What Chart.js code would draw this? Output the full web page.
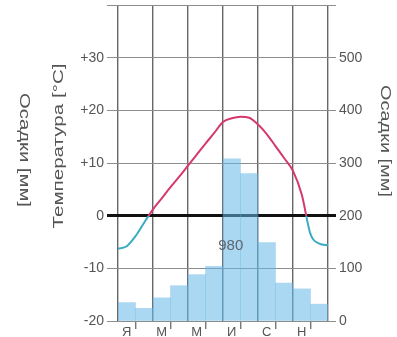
<!DOCTYPE html>
<html>
<head>
<meta charset="utf-8">
<script src="https://cdn.jsdelivr.net/npm/chart.js@4.4.1/dist/chart.umd.min.js"></script>
<style>
  html, body { margin: 0; padding: 0; background: #fff; }
  #wrap { width: 397px; height: 337px; }
</style>
</head>
<body>
<div id="wrap"><canvas id="climate"></canvas></div>
<script>
// month initials (only every second one is printed on the axis)
const months = ['Я', 'Ф', 'М', 'А', 'М', 'И', 'И', 'А', 'С', 'О', 'Н', 'Д'];
// monthly precipitation, mm
const precip = [35, 24, 44, 67, 88, 104, 308, 280, 149, 72, 61, 32];
// temperature curve, read every half month (0 = start of Jan, 12 = end of Dec)
const tempAt = [0, 0.5, 1, 1.5, 2, 2.5, 3, 3.5, 4, 4.5, 5, 5.5, 6, 6.5, 7, 7.5, 8, 8.5, 9, 9.5, 10, 10.5, 11, 11.5, 12];
const temps = [-6.3, -5.8, -3.9, -1.3, 1.2, 3.3, 5.4, 7.4, 9.5, 11.6, 13.7, 15.7, 17.8, 18.5, 18.8, 18.6, 17.3, 15.5, 13.2, 10.9, 8.5, 4.0, -3.5, -5.3, -5.6];
const tempTicks = [-20, -10, 0, 10, 20, 30, 40];
const precipTicks = [0, 100, 200, 300, 400, 500, 600];
const annualTotal = '980';

const RED = '#d5386f';
const CYAN = '#3aabc0';
const TEXT = '#555';
const FONT = '"Liberation Sans", Arial, sans-serif';

const tempLine = tempAt.map((m, i) => ({ x: m, y: temps[i] }));
const precipBars = precip.map((v, i) => ({ x: i + 0.5, y: v }));

// red above zero, cyan below
function tempColor(ctx) {
  const chart = ctx.chart;
  const area = chart.chartArea;
  if (!area) return RED;
  const y0 = chart.scales.y.getPixelForValue(0);
  const t = Math.min(1, Math.max(0, (y0 - area.top) / (area.bottom - area.top)));
  const g = chart.ctx.createLinearGradient(0, area.top, 0, area.bottom);
  g.addColorStop(0, RED);
  g.addColorStop(t, RED);
  g.addColorStop(t, CYAN);
  g.addColorStop(1, CYAN);
  return g;
}

// no extra room for the half label heights at the ends of the axes
const noPad = s => { s.paddingTop = 0; s.paddingBottom = 0; s.paddingLeft = 0; s.paddingRight = 0; };

// rotated axis titles + the annual total
const extraText = {
  id: 'extraText',
  afterDatasetsDraw(chart) {
    const c = chart.ctx;
    const put = (text, x, y, angle, len) => {
      c.save();
      c.font = '15px ' + FONT;
      c.fillStyle = TEXT;
      c.textAlign = 'center';
      c.textBaseline = 'middle';
      c.translate(x, y);
      c.rotate(angle);
      c.scale(len / c.measureText(text).width, 1);
      c.fillText(text, 0, 0);
      c.restore();
    };
    put('Температура [°C]', 59, 146, -Math.PI / 2, 165);
    put('Осадки [мм]', 24, 150, Math.PI / 2, 114);
    put('Осадки [мм]', 385, 141, Math.PI / 2, 112);

    c.save();
    c.font = '15px ' + FONT;
    c.fillStyle = '#5f6670';
    c.textAlign = 'center';
    c.textBaseline = 'middle';
    c.fillText(annualTotal, chart.scales.x.getPixelForValue(6.5) - 1, chart.scales.y.getPixelForValue(-5.7));
    c.restore();
  }
};

new Chart(document.getElementById('climate'), {
  data: {
    datasets: [{
      type: 'line',
      data: tempLine,
      xAxisID: 'x',
      yAxisID: 'y',
      borderColor: tempColor,
      borderWidth: 2,
      pointRadius: 0,
      cubicInterpolationMode: 'monotone',
      order: 0
    }, {
      type: 'bar',
      data: precipBars,
      xAxisID: 'xb',
      yAxisID: 'y1',
      backgroundColor: 'rgba(100, 182, 230, 0.55)',
      borderWidth: 0,
      grouped: false,
      barPercentage: 1,
      categoryPercentage: 1,
      order: 1
    }]
  },
  options: {
    responsive: true,
    maintainAspectRatio: false,
    animation: false,
    layout: { padding: { top: 5, left: 0, right: 0, bottom: 0 } },
    plugins: { legend: { display: false }, tooltip: { enabled: false } },
    scales: {
      x: {
        type: 'linear',
        min: 0,
        max: 12,
        offset: false,
        afterFit: s => { s.height = 16; noPad(s); },
        afterBuildTicks: s => {
          s.ticks = [];
          for (let v = 0; v <= 12; v += 0.5) s.ticks.push({ value: v });
        },
        border: { display: false },
        grid: {
          color: ctx => (ctx.tick && ctx.tick.value % 2 === 0) ? '#666' : 'rgba(0,0,0,0)',
          lineWidth: 1.4,
          tickColor: ctx => (ctx.tick && ctx.tick.value % 2 === 1) ? '#777' : 'rgba(0,0,0,0)',
          tickLength: 8
        },
        ticks: {
          autoSkip: false,
          maxRotation: 0,
          padding: -4,
          color: TEXT,
          font: { family: FONT, size: 13 },
          callback: v => {
            const m = v - 0.5;
            return (Number.isInteger(m) && m % 2 === 0) ? months[m] : '';
          }
        }
      },
      // hidden month axis for the bars, ticks one month apart
      xb: {
        type: 'linear',
        min: 0,
        max: 12,
        offset: false,
        display: false,
        afterBuildTicks: s => {
          s.ticks = [];
          for (let v = 0; v <= 12; v++) s.ticks.push({ value: v });
        }
      },
      y: {
        position: 'left',
        min: -20,
        max: 40,
        afterFit: s => { s.width = 118; noPad(s); },
        afterBuildTicks: s => { s.ticks = tempTicks.map(v => ({ value: v })); },
        border: { display: false },
        grid: {
          color: ctx => ctx.tick && ctx.tick.value === 0 ? '#111' : '#8c8c8c',
          lineWidth: ctx => ctx.tick && ctx.tick.value === 0 ? 3 : 1,
          tickColor: ctx => ctx.tick && ctx.tick.value === 0 ? '#111' : '#8c8c8c',
          tickWidth: ctx => ctx.tick && ctx.tick.value === 0 ? 3 : 1,
          tickLength: 11
        },
        ticks: {
          padding: 3,
          color: TEXT,
          font: { family: FONT, size: 14 },
          callback: v => v === 40 ? '' : (v > 0 ? '+' + v : String(v))
        }
      },
      y1: {
        position: 'right',
        min: 0,
        max: 600,
        afterFit: s => { s.width = 69; noPad(s); },
        afterBuildTicks: s => { s.ticks = precipTicks.map(v => ({ value: v })); },
        border: { display: false },
        grid: {
          drawOnChartArea: false,
          tickColor: ctx => ctx.tick && ctx.tick.value === 200 ? '#111' : '#8c8c8c',
          tickWidth: ctx => ctx.tick && ctx.tick.value === 200 ? 3 : 1,
          tickLength: 8
        },
        ticks: {
          padding: 3,
          color: TEXT,
          font: { family: FONT, size: 14 },
          callback: v => v === 600 ? '' : String(v)
        }
      }
    }
  },
  plugins: [extraText]
});
</script>
</body>
</html>
